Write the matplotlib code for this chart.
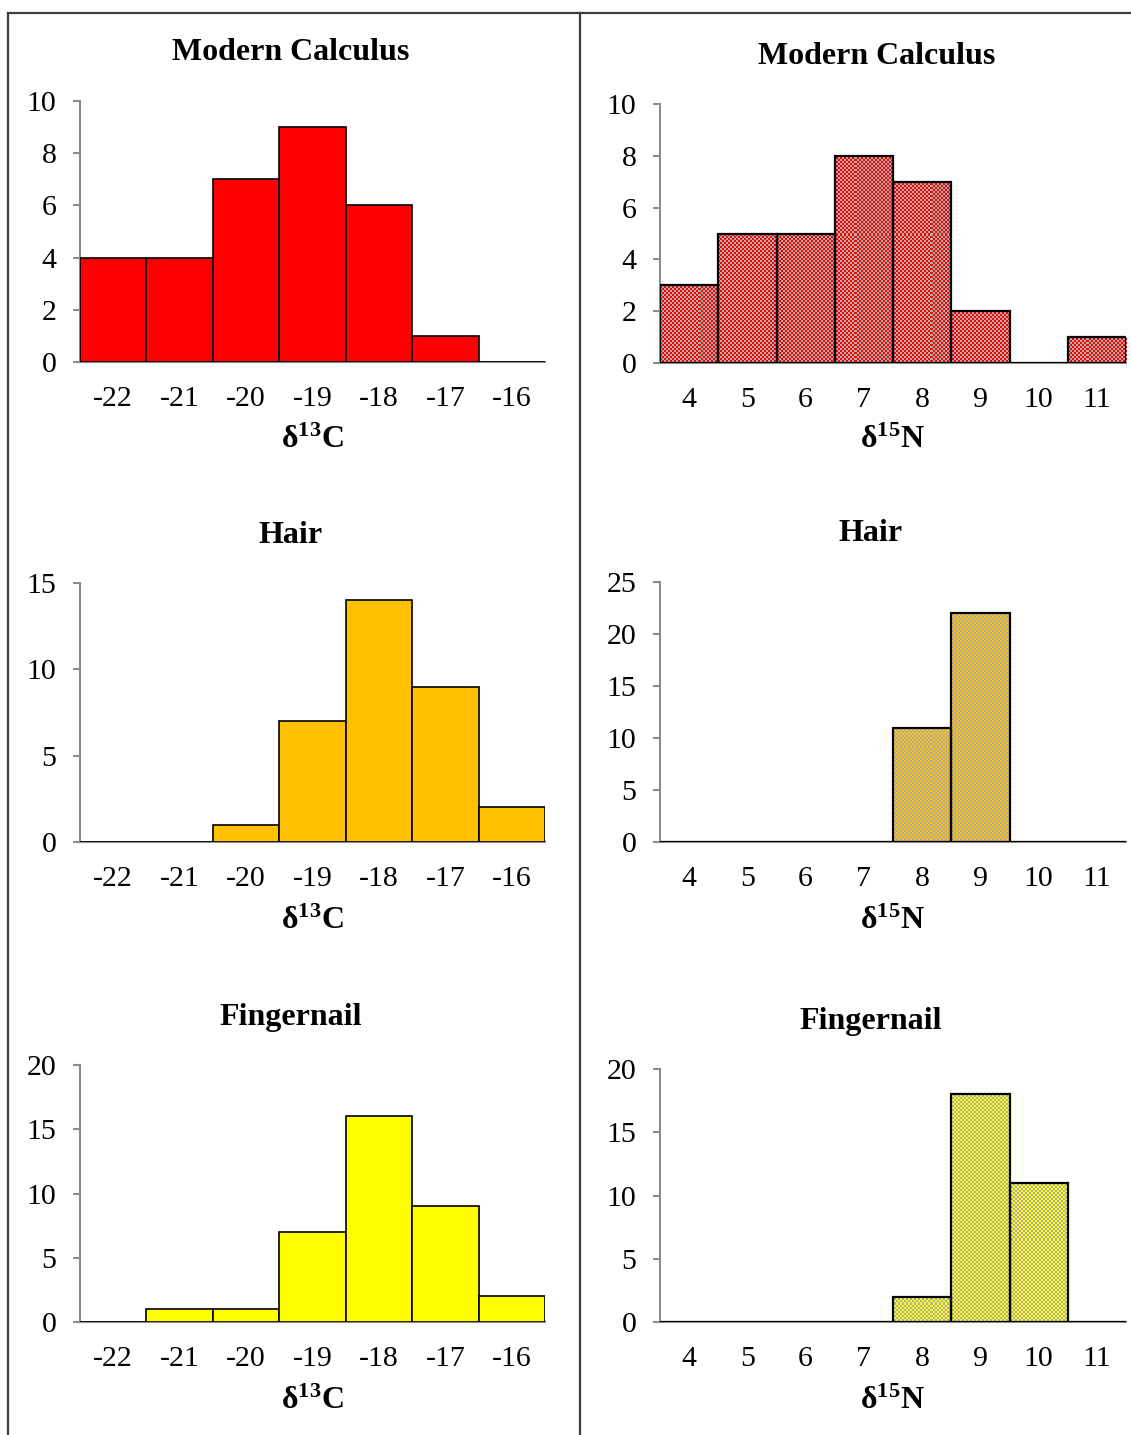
import numpy as np
import matplotlib
matplotlib.use("Agg")
import matplotlib.pyplot as plt
from matplotlib.lines import Line2D
from matplotlib.colors import to_rgb

plt.rcParams['font.family'] = ['Liberation Serif', 'DejaVu Serif']
plt.rcParams['mathtext.fontset'] = 'custom'
plt.rcParams['mathtext.bf'] = 'Liberation Serif:bold'
plt.rcParams['mathtext.rm'] = 'Liberation Serif'

# ---- data ----
carbon_bins = [-22, -21, -20, -19, -18, -17, -16]
nitrogen_bins = [4, 5, 6, 7, 8, 9, 10, 11]

calculus_c = [4, 4, 7, 9, 6, 1, 0]
calculus_n = [3, 5, 5, 8, 7, 2, 0, 1]
hair_c = [0, 0, 1, 7, 14, 9, 2]
hair_n = [0, 0, 0, 0, 11, 22, 0, 0]
nail_c = [0, 1, 1, 7, 16, 9, 2]
nail_n = [0, 0, 0, 0, 2, 18, 11, 0]

titles = ["Modern Calculus", "Hair", "Fingernail"]
colors = ["#FF0000", "#FFC000", "#FFFF00"]

W, H = 1131, 1435
fig = plt.figure(figsize=(W / 100, H / 100), dpi=100)


def frac_box(x0, top, x1, bottom):
    return [x0 / W, 1 - bottom / H, (x1 - x0) / W, (bottom - top) / H]


left_boxes = [frac_box(80, 101, 545, 362),
              frac_box(80, 583, 545, 842),
              frac_box(80, 1065, 545, 1322)]
right_boxes = [frac_box(660, 104, 1126, 363),
               frac_box(660, 582, 1126, 842),
               frac_box(660, 1069, 1126, 1322)]

left_ylim = [(10, 2), (15, 5), (20, 5)]
right_ylim = [(10, 2), (25, 5), (20, 5)]

left_title_pos = [(291, 53), (291, 535), (291, 1018)]
right_title_pos = [(877, 56), (871, 534), (871, 1022)]
left_label_pos = [(312, 440), (312, 921), (312, 1401)]
right_label_pos = [(892, 440), (892, 921), (892, 1401)]

GRAY_AX = "#8C8C8C"
TICK_FS = 21.5
HEAD_FS = 23


def style_axes(ax, cats, ymax, ystep):
    n = len(cats)
    ax.set_xlim(-0.5, n - 0.5)
    ax.set_ylim(0, ymax)
    ax.set_xticks(range(n))
    ax.set_xticklabels([str(c) for c in cats])
    ax.set_yticks(np.arange(0, ymax + 0.01, ystep))
    for s in ["top", "right"]:
        ax.spines[s].set_visible(False)
    for s in ["left", "bottom"]:
        ax.spines[s].set_color(GRAY_AX)
        ax.spines[s].set_linewidth(1.5)
    ax.tick_params(axis="x", length=0, pad=17, labelsize=TICK_FS)
    ax.tick_params(axis="y", length=5, width=1.5, color=GRAY_AX,
                   pad=12, labelsize=TICK_FS, direction="out")
    ax.patch.set_alpha(0)


def checker_image(ax, color):
    bb = ax.get_window_extent()
    w, h = int(round(bb.width)), int(round(bb.height))
    jj, ii = np.meshgrid(np.arange(w), np.arange(h))
    mask = ((ii // 2 + jj // 2) % 2) == 0
    img = np.empty((h, w, 3))
    img[:] = to_rgb(color)
    img[mask] = to_rgb("#ADADAD")
    return img


for k in range(3):
    # carbon panel
    axl = fig.add_axes(left_boxes[k])
    vals = [calculus_c, hair_c, nail_c][k]
    axl.bar(range(len(carbon_bins)), vals, width=1.0, color=colors[k],
            edgecolor="black", linewidth=1.2, zorder=3)
    style_axes(axl, carbon_bins, *left_ylim[k])

    # nitrogen panel with checkered fill
    axr = fig.add_axes(right_boxes[k])
    vals = [calculus_n, hair_n, nail_n][k]
    style_axes(axr, nitrogen_bins, *right_ylim[k])
    bars = axr.bar(range(len(nitrogen_bins)), vals, width=1.0,
                   color=colors[k], edgecolor="none", zorder=2)
    img = checker_image(axr, colors[k])
    ext = (-0.5, len(nitrogen_bins) - 0.5, 0, right_ylim[k][0])
    for b in bars:
        if b.get_height() <= 0:
            continue
        im = axr.imshow(img, extent=ext, aspect="auto", origin="upper",
                        interpolation="nearest", zorder=2.5)
        im.set_clip_path(b)
    axr.bar(range(len(nitrogen_bins)), vals, width=1.0, color="none",
            edgecolor="black", linewidth=1.6, zorder=3)
    axr.set_xlim(-0.5, len(nitrogen_bins) - 0.5)
    axr.set_ylim(0, right_ylim[k][0])

    # titles and axis labels
    x, y = left_title_pos[k]
    fig.text(x / W, 1 - y / H, titles[k], ha="center", va="center",
             fontsize=HEAD_FS, fontweight="bold")
    x, y = right_title_pos[k]
    fig.text(x / W, 1 - y / H, titles[k], ha="center", va="center",
             fontsize=HEAD_FS, fontweight="bold")
    x, y = left_label_pos[k]
    fig.text(x / W, 1 - y / H, r"δ$\mathbf{^{13}}$C", ha="center",
             va="center", fontsize=HEAD_FS, fontweight="bold")
    x, y = right_label_pos[k]
    fig.text(x / W, 1 - y / H, r"δ$\mathbf{^{15}}$N", ha="center",
             va="center", fontsize=HEAD_FS, fontweight="bold")

# panel frame lines
frame_kw = dict(color="#3F3F3F", linewidth=1.6, transform=fig.transFigure)
fig.add_artist(Line2D([8 / W, 1], [1 - 13 / H, 1 - 13 / H], **frame_kw))
fig.add_artist(Line2D([8 / W, 8 / W], [1 - 13 / H, 0], **frame_kw))
fig.add_artist(Line2D([580 / W, 580 / W], [1 - 13 / H, 0], **frame_kw))

fig.savefig("out.png", dpi=100, facecolor="white")
